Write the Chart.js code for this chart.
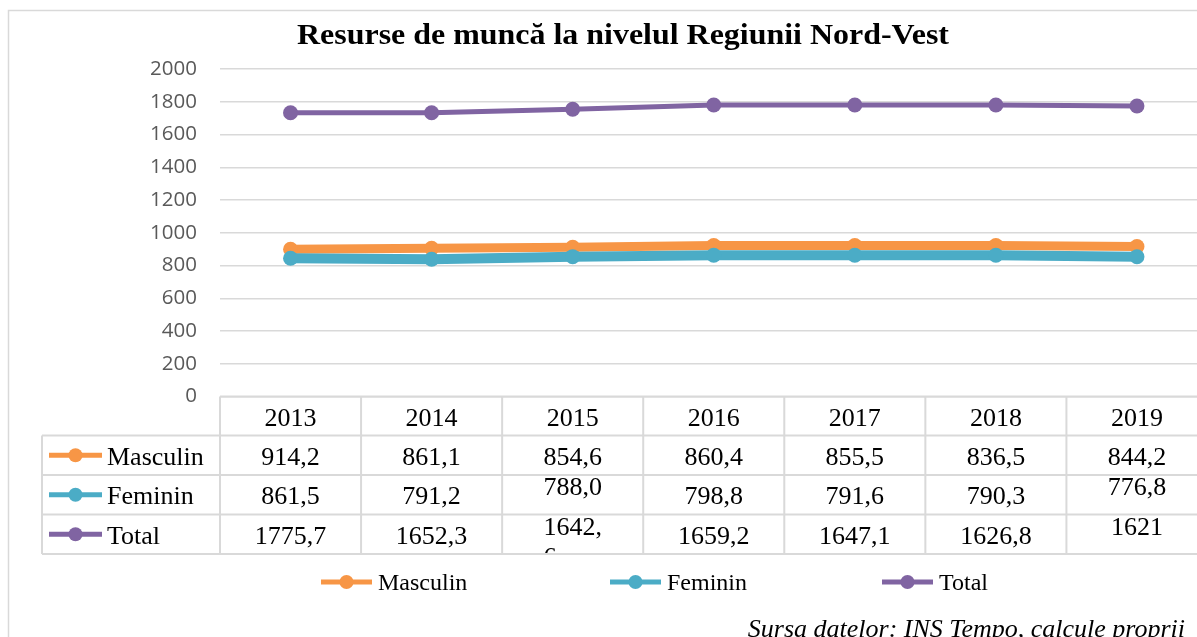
<!DOCTYPE html>
<html>
<head>
<meta charset="utf-8">
<script src="https://cdn.jsdelivr.net/npm/chart.js@4.4.1/dist/chart.umd.min.js"></script>
<style>
  html, body { margin: 0; padding: 0; overflow: hidden; background: #ffffff; width: 1197px; height: 637px; }
  #c { position: absolute; left: 0; top: 0; }
</style>
</head>
<body>
<canvas id="c" width="1215" height="637"></canvas>
<script>
// ---- Data ----
const chartTitle = 'Resurse de muncă la nivelul Regiunii Nord-Vest';
const sourceNote = 'Sursa datelor: INS Tempo, calcule proprii';
const years = ['2013', '2014', '2015', '2016', '2017', '2018', '2019'];
const seriesNames = ['Masculin', 'Feminin', 'Total'];

const masculinPlot = [899, 905, 911, 922, 922, 922, 916];
const femininPlot  = [844, 838, 854, 863, 863, 863, 853];
const totalPlot    = [1733, 1733, 1754, 1780, 1780, 1780, 1774];

// values printed in the data table
const masculinTable = ['914,2', '861,1', '854,6', '860,4', '855,5', '836,5', '844,2'];
const femininTable  = ['861,5', '791,2', '788,0', '798,8', '791,6', '790,3', '776,8'];
const totalTable    = ['1775,7', '1652,3', '1642,6', '1659,2', '1647,1', '1626,8', '1621'];

const yTickValues = [0, 200, 400, 600, 800, 1000, 1200, 1400, 1600, 1800, 2000];

// ---- Styles ----
const colors = ['#F79646', '#4BACC6', '#8064A2'];
const gridColor = '#d9d9d9';
const serif = "'Liberation Serif', 'Times New Roman', serif";
// cells whose text sits at the top of the cell (row index, column index)
const topAlignedCells = [[1, 2], [1, 6], [2, 2], [2, 6]];
// cells whose text wraps after the given number of characters
const wrappedCells = [{ row: 2, col: 2, split: 5 }];

const tableRows = [masculinTable, femininTable, totalTable];

const decor = {
  id: 'decor',
  afterDraw(chart) {
    const ctx = chart.ctx;
    const x = chart.scales.x;
    const area = chart.chartArea;
    ctx.save();

    // outer frame
    ctx.strokeStyle = gridColor;
    ctx.lineWidth = 1.5;
    ctx.strokeRect(8.5, 10.5, 3000, 3000);

    // title
    ctx.fillStyle = '#000';
    ctx.font = 'bold 29px ' + serif;
    ctx.textAlign = 'center';
    ctx.textBaseline = 'alphabetic';
    const tw = ctx.measureText(chartTitle).width;
    ctx.save();
    ctx.translate(623, 44);
    ctx.scale(652 / tw, 1);
    ctx.fillText(chartTitle, 0, 0);
    ctx.restore();

    // data table
    const colW = x.getPixelForValue(1) - x.getPixelForValue(0);
    const tLeft = area.left;
    const tRight = x.getPixelForValue(years.length - 1) + colW / 2;
    const top = area.bottom;
    const headH = 39;
    const rowH = 39.5;
    const labelLeft = 42;
    const bottom = top + headH + rowH * 3;

    ctx.strokeStyle = gridColor;
    ctx.lineWidth = 2;
    ctx.beginPath();
    ctx.moveTo(tLeft, top); ctx.lineTo(tRight, top);
    for (let r = 0; r <= 3; r++) {
      const yy = top + headH + r * rowH;
      ctx.moveTo(labelLeft, yy); ctx.lineTo(tRight, yy);
    }
    ctx.moveTo(labelLeft, top + headH); ctx.lineTo(labelLeft, bottom);
    for (let i = 0; i <= years.length; i++) {
      const xx = tLeft + i * colW;
      ctx.moveTo(xx, top); ctx.lineTo(xx, bottom);
    }
    ctx.stroke();

    ctx.fillStyle = '#000';
    ctx.font = '26px ' + serif;
    ctx.textAlign = 'center';
    years.forEach((yr, i) => {
      ctx.fillText(yr, x.getPixelForValue(i), top + headH / 2 + 10);
    });

    tableRows.forEach((row, r) => {
      const rTop = top + headH + r * rowH;
      const rMid = rTop + rowH / 2;
      // legend key
      ctx.strokeStyle = colors[r];
      ctx.lineWidth = 5;
      ctx.beginPath();
      ctx.moveTo(49, rMid); ctx.lineTo(102, rMid);
      ctx.stroke();
      ctx.fillStyle = colors[r];
      ctx.beginPath();
      ctx.arc(75.5, rMid, 7, 0, Math.PI * 2);
      ctx.fill();
      ctx.fillStyle = '#000';
      ctx.textAlign = 'left';
      ctx.fillText(seriesNames[r], 107, rMid + 9.5);

      row.forEach((txt, c) => {
        const cx = x.getPixelForValue(c);
        const isTop = topAlignedCells.some(p => p[0] === r && p[1] === c);
        const baseY = isTop ? rTop + 20 : rMid + 9.5;
        const wrap = wrappedCells.find(w => w.row === r && w.col === c);
        ctx.save();
        ctx.beginPath();
        ctx.rect(cx - colW / 2 + 1, rTop + 1, colW - 2, rowH - 2);
        ctx.clip();
        if (wrap) {
          const l1 = txt.slice(0, wrap.split);
          const l2 = txt.slice(wrap.split);
          const w1 = ctx.measureText(l1).width;
          ctx.textAlign = 'center';
          ctx.fillText(l1, cx, baseY);
          ctx.textAlign = 'left';
          ctx.fillText(l2, cx - w1 / 2, baseY + 30);
        } else {
          ctx.textAlign = 'center';
          ctx.fillText(txt, cx, baseY);
        }
        ctx.restore();
      });
    });

    // bottom legend
    const legendX = [321, 610, 882];
    const legendY = 582;
    ctx.font = '24px ' + serif;
    ctx.textAlign = 'left';
    seriesNames.forEach((name, i) => {
      const lx = legendX[i];
      ctx.strokeStyle = colors[i];
      ctx.lineWidth = 5;
      ctx.beginPath();
      ctx.moveTo(lx, legendY); ctx.lineTo(lx + 51, legendY);
      ctx.stroke();
      ctx.fillStyle = colors[i];
      ctx.beginPath();
      ctx.arc(lx + 25.5, legendY, 7, 0, Math.PI * 2);
      ctx.fill();
      ctx.fillStyle = '#000';
      ctx.fillText(name, lx + 57, legendY + 8);
    });

    // source note
    ctx.font = 'italic 26px ' + serif;
    ctx.textAlign = 'right';
    ctx.fillText(sourceNote, 1185, 637);

    ctx.restore();
  }
};

const plotValues = [masculinPlot, femininPlot, totalPlot];
const lineWidths = [9, 10, 5];
const drawOrder = [2, 1, 0];

new Chart(document.getElementById('c'), {
  type: 'line',
  data: {
    labels: years,
    datasets: seriesNames.map((name, i) => ({
      label: name,
      data: plotValues[i],
      borderColor: colors[i],
      backgroundColor: colors[i],
      borderWidth: lineWidths[i],
      pointRadius: 7.5,
      pointBorderWidth: 0,
      pointBackgroundColor: colors[i],
      tension: 0,
      order: drawOrder[i],
      clip: false
    }))
  },
  options: {
    responsive: false,
    animation: false,
    devicePixelRatio: 1,
    layout: { padding: { left: 0, top: 69, right: 2, bottom: 240.5 } },
    plugins: {
      legend: { display: false },
      title: { display: false },
      tooltip: { enabled: false }
    },
    scales: {
      x: {
        display: false,
        offset: true,
        grid: { display: false }
      },
      y: {
        min: 0,
        max: 2000,
        afterBuildTicks(scale) { scale.ticks = yTickValues.map(v => ({ value: v })); },
        afterFit(scale) { scale.width = 220; },
        border: { display: false },
        grid: { color: gridColor, lineWidth: 1.5, drawTicks: false },
        ticks: {
          padding: 23,
          color: '#595959',
          font: { family: "'Open Sans', sans-serif", size: 20.5 },
          callback: (v) => String(v)
        }
      }
    }
  },
  plugins: [decor]
});
</script>
</body>
</html>
